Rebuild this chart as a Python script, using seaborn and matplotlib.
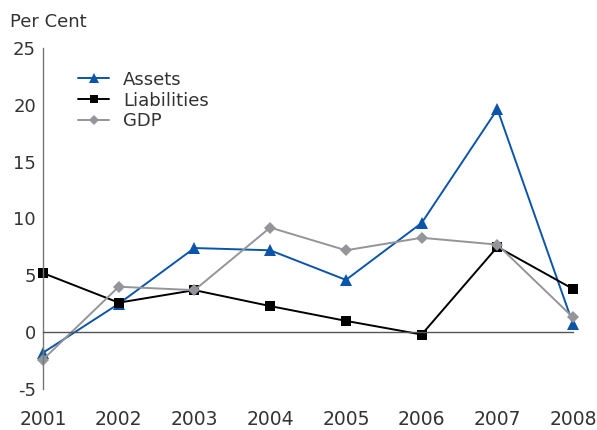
import pandas as pd
import numpy as np
import matplotlib.pyplot as plt
import seaborn as sns

# values
years = [2001, 2002, 2003, 2004, 2005, 2006, 2007, 2008]
assets = [-1.8, 2.5, 7.4, 7.2, 4.6, 9.6, 19.6, 0.7]
liabilities = [5.2, 2.6, 3.7, 2.3, 1.0, -0.2, 7.5, 3.8]
gdp = [-2.4, 4.0, 3.7, 9.2, 7.2, 8.3, 7.7, 1.3]

series_names = ['Assets', 'Liabilities', 'GDP']
colors = {'Assets': '#0b55a8', 'Liabilities': '#000000', 'GDP': '#939598'}
markers = {'Assets': '^', 'Liabilities': 's', 'GDP': 'D'}
sizes = {'Assets': 8, 'Liabilities': 7, 'GDP': 6}

df = pd.DataFrame({'Year': years, 'Assets': assets, 'Liabilities': liabilities, 'GDP': gdp})
long_df = df.melt(id_vars='Year', var_name='Series', value_name='Value')

sns.set_style('white')
plt.rcParams['font.family'] = ['DejaVu Sans']
plt.rcParams['axes.unicode_minus'] = False
text_color = '#333333'

fig, ax = plt.subplots(figsize=(5.97, 4.3), dpi=100)
fig.subplots_adjust(left=0.072, right=0.96, top=0.889, bottom=0.095)

for name in series_names:
    sub = long_df[long_df['Series'] == name]
    sns.lineplot(data=sub, x='Year', y='Value', ax=ax, color=colors[name],
                 marker=markers[name], markersize=sizes[name], markeredgewidth=0,
                 linewidth=1.4, label=name, clip_on=False)

ax.set_xlim(2001, 2008)
ax.set_ylim(-5, 25)
ax.set_xticks(years)
ax.set_yticks([-5, 0, 5, 10, 15, 20, 25])
ax.set_xlabel('')
ax.set_ylabel('')

for s in ['top', 'right']:
    ax.spines[s].set_visible(False)
ax.spines['bottom'].set_position(('data', 0))
ax.spines['bottom'].set_color('#555555')
ax.spines['left'].set_color('#777777')
ax.spines['bottom'].set_linewidth(1)
ax.spines['left'].set_linewidth(1)

ax.tick_params(axis='x', direction='out', length=5, width=1, color='#555555',
               labelsize=13.5, labelcolor=text_color, pad=51)
ax.tick_params(axis='y', direction='out', length=4, width=1, color='#777777',
               labelsize=13, labelcolor=text_color, pad=1)

fig.text(0.017, 0.948, 'Per Cent', fontsize=13, color=text_color, va='center')

ax.legend(loc='upper left', bbox_to_anchor=(0.035, 0.98), frameon=False,
          fontsize=13, handlelength=1.75, handletextpad=0.75, markerscale=0.85,
          labelspacing=0.15, labelcolor=text_color)

fig.savefig('out.png', dpi=100)
